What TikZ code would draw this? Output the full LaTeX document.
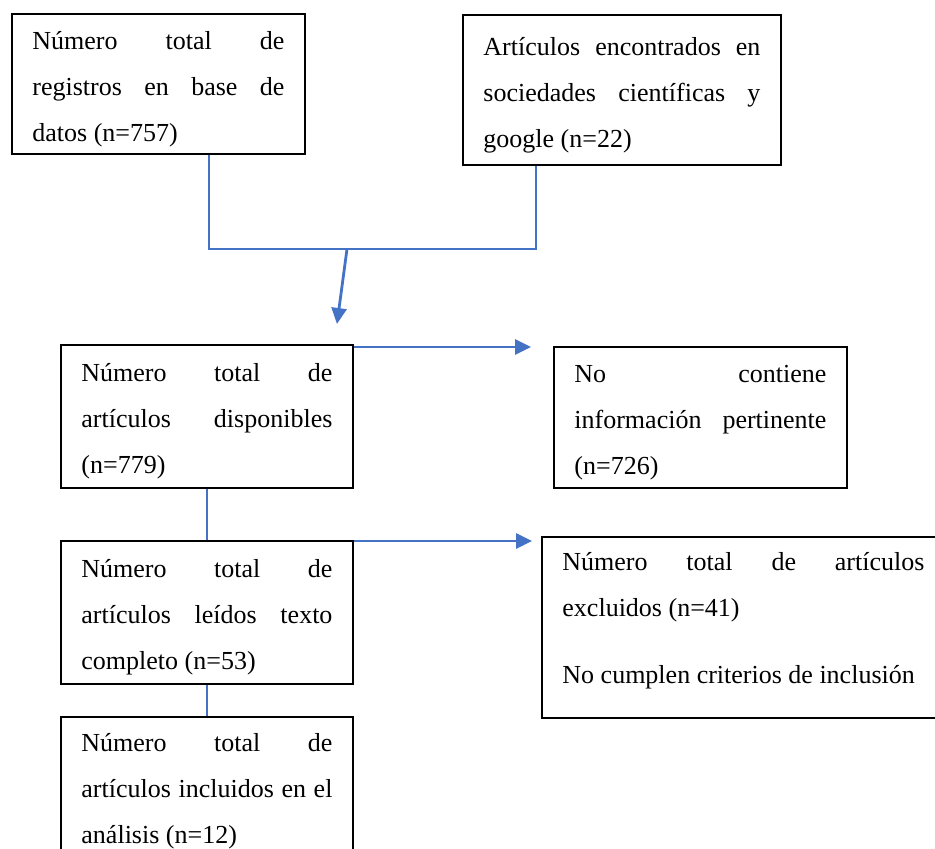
\documentclass[tikz,border=0pt]{standalone}
\usepackage{fontspec}
\setmainfont{Liberation Serif}
\usetikzlibrary{arrows.meta}
\definecolor{linkblue}{HTML}{4472C4}
\tolerance=10000
\hyphenpenalty=10000

\begin{document}
\begin{tikzpicture}[x=1pt, y=-1pt,
    box/.style={draw, line width=1.9pt, anchor=north west, inner xsep=20.5pt, inner ysep=0pt,
        align=justify, font=\fontsize{26pt}{46pt}\selectfont,
        execute at begin node=\rule{0pt}{28pt}},
    link/.style={draw=linkblue, line width=1.2pt},
    flow/.style={draw=linkblue, line width=2.8pt, -{Triangle[length=16pt,width=15pt]}}]

    \useasboundingbox (0,0) rectangle (935,849);
    \clip (0,0) rectangle (935,849);

    % fuentes
    \node [box, text width=252pt, minimum height=140pt] (registros) at (11,13)
        {Número total de\linebreak registros en base de\linebreak datos (n=757)};
    \node [box, text width=277pt, minimum height=150pt] (sociedades) at (462,14)
        {Artículos encontrados en\linebreak sociedades científicas y\linebreak google (n=22)};

    % cribado
    \node [box, text width=251pt, minimum height=143pt] (disponibles) at (60,344)
        {Número total de\linebreak artículos disponibles\linebreak (n=779)};
    \node [box, text width=252pt, minimum height=141pt] (pertinente) at (553,346)
        {No contiene\linebreak información pertinente\linebreak (n=726)};
    \node [box, text width=251pt, minimum height=143pt] (leidos) at (60,540)
        {Número total de\linebreak artículos leídos texto\linebreak completo (n=53)};
    \node [box, text width=362pt, minimum height=181pt] (excluidos) at (541,536)
        {Número total de artículos\linebreak excluidos (n=41)\par\vspace{21pt}
        No cumplen criterios de inclusión\par\vspace{24pt}\hrule height 0pt};
    \node [box, text width=251pt, minimum height=139pt] (incluidos) at (60,716)
        {Número total de\linebreak artículos incluidos en el\linebreak análisis (n=12)};

    % conectores
    \coordinate (union) at (347,249);
    \coordinate (aPertinente) at (531,347);
    \coordinate (aExcluidos) at (532,541);

    \draw [link] ([xshift=50.5pt]registros.south) |- (union) -| ([xshift=-86pt]sociedades.south);
    \draw [flow] (union) -- ([xshift=130pt,yshift=20pt]disponibles.north);
    \draw [flow] (disponibles.north east |- aPertinente) -- (aPertinente);
    \draw [link] (disponibles) -- (leidos);
    \draw [flow] (leidos.north east |- aExcluidos) -- (aExcluidos);
    \draw [link] (leidos) -- (incluidos);

\end{tikzpicture}
\end{document}
